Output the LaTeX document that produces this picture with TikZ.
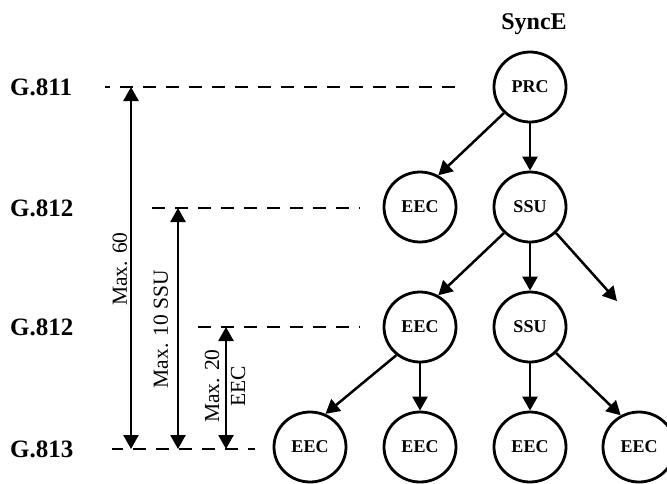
\documentclass[tikz,border=0pt]{standalone}
\usepackage{fontspec}
\setmainfont{Liberation Serif}
\usetikzlibrary{arrows.meta,shapes.geometric}
\begin{document}
\begin{tikzpicture}[x=1pt,y=-1pt,
  nd/.style={ellipse,draw,line width=2.8pt,minimum width=72pt,minimum height=70pt,inner sep=0pt,font=\fontsize{18}{20}\selectfont\bfseries},
  lvl/.style={anchor=west,inner sep=0pt,font=\fontsize{25}{28}\selectfont\bfseries},
  dl/.style={dash pattern=on 13pt off 10pt,line width=1.8pt},
  ar/.style={line width=2.5pt,-{Triangle[width=15pt,length=14pt]}},
  dar/.style={line width=2.5pt,{Triangle[width=15pt,length=14pt]}-{Triangle[width=15pt,length=14pt]}},
  rl/.style={rotate=90,inner sep=0pt,align=center,font=\fontsize{21.5}{26}\selectfont}]
\useasboundingbox (0,0) rectangle (667,483);
% nodes
\node[nd] (prc) at (530,87) {PRC};
\node[nd] (eA) at (420,207) {EEC};
\node[nd] (sA) at (530,207) {SSU};
\node[nd] (eB) at (420,327) {EEC};
\node[nd] (sB) at (530,327) {SSU};
\node[nd] (c1) at (310,447) {EEC};
\node[nd] (c2) at (420,447) {EEC};
\node[nd] (c3) at (530,447) {EEC};
\node[nd] (c4) at (639,447) {EEC};
\node[inner sep=0pt,font=\fontsize{24}{28}\selectfont\bfseries] (sync) at (534,24) {SyncE};
% level labels
\node[lvl] (g1) at (10,87) {G.811};
\node[lvl] (g2) at (10,208) {G.812};
\node[lvl] (g3) at (10,327) {G.812};
\node[lvl] (g4) at (10,449) {G.813};
% dashed level lines
\coordinate (d1a) at (105,87);  \coordinate (d1b) at (465,87);
\coordinate (d2a) at (152,208); \coordinate (d2b) at (360,208);
\coordinate (d3a) at (198,327); \coordinate (d3b) at (360,327);
\coordinate (d4a) at (112,449); \coordinate (d4b) at (255,449);
\draw[dl,dash phase=8pt] (d1a) -- (d1b);
\draw[dl] (d2a) -- (d2b);
\draw[dl] (d3a) -- (d3b);
\draw[dl,dash phase=2pt] (d4a) -- (d4b);
% vertical range arrows
\coordinate (v1t) at (131,87);  \coordinate (v1b) at (131,449);
\coordinate (v2t) at (178,208); \coordinate (v2b) at (178,449);
\coordinate (v3t) at (226,327); \coordinate (v3b) at (226,449);
\draw[dar] (v1t) -- (v1b);
\draw[dar] (v2t) -- (v2b);
\draw[dar] (v3t) -- (v3b);
\node[rl] (m1) at (120,269) {Max. 60};
\node[rl] (m2) at (161,329) {Max. 10 SSU};
\node[rl] (m3) at (225,386) {Max. 20\\EEC};
% tree edges
\draw[ar] (prc.225) -- (eA.60);
\draw[ar] (prc) -- (sA);
\draw[ar] (sA.225) -- (eB.60);
\draw[ar] (sA) -- (sB);
\coordinate (free) at (617,301);
\draw[ar] (sA.-45) -- (free);
\draw[ar] (eB.230) -- (c1.65);
\draw[ar] (eB) -- (c2);
\draw[ar] (sB) -- (c3);
\draw[ar] (sB.-45) -- (c4.120);
\end{tikzpicture}
\end{document}
